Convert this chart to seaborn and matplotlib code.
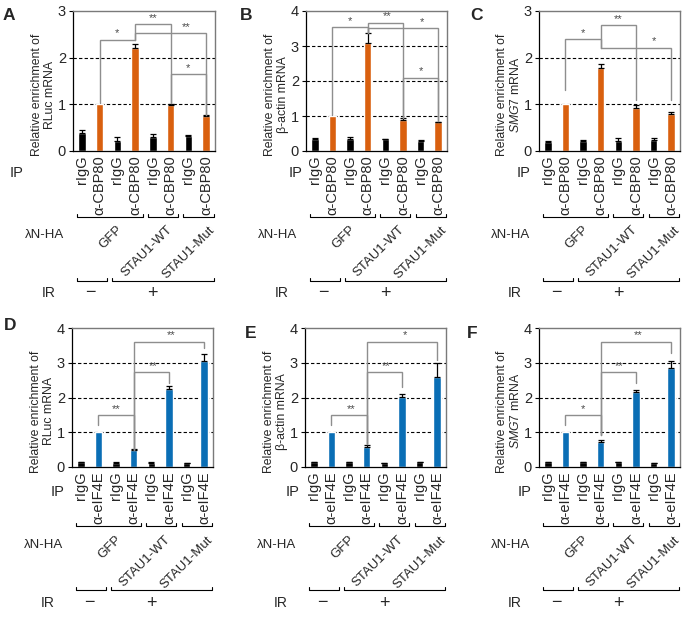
import pandas as pd
import matplotlib
matplotlib.use("Agg")
import matplotlib.pyplot as plt
import matplotlib.transforms as mtransforms
import seaborn as sns

W, H = 685, 618

# x tick labels
ab_cbp = ['rIgG', 'α-CBP80'] * 4
ab_eif = ['rIgG', 'α-eIF4E'] * 4
groups = ['GFP', 'STAU1-WT', 'STAU1-Mut']
ir_signs = ['−', '+']

# bar values (mean) and upper error
rluc_cbp = [0.38, 1.00, 0.21, 2.21, 0.29, 0.99, 0.32, 0.76]
rluc_cbp_err = [0.07, 0, 0.10, 0.08, 0.07, 0.02, 0.03, 0.01]
actin_cbp = [0.33, 1.00, 0.33, 3.10, 0.33, 0.88, 0.28, 0.83]
actin_cbp_err = [0.05, 0, 0.06, 0.27, 0.02, 0.05, 0.03, 0.01]
smg7_cbp = [0.20, 1.00, 0.22, 1.77, 0.22, 0.92, 0.23, 0.80]
smg7_cbp_err = [0.01, 0, 0.01, 0.09, 0.06, 0.07, 0.05, 0.03]
rluc_eif = [0.14, 1.00, 0.12, 0.50, 0.12, 2.25, 0.11, 3.05]
rluc_eif_err = [0.01, 0, 0.01, 0.01, 0.01, 0.08, 0.01, 0.20]
actin_eif = [0.13, 1.00, 0.14, 0.58, 0.11, 2.02, 0.13, 2.58]
actin_eif_err = [0.01, 0, 0.01, 0.04, 0.01, 0.07, 0.01, 0.42]
smg7_eif = [0.14, 1.00, 0.13, 0.71, 0.14, 2.16, 0.11, 2.86]
smg7_eif_err = [0.01, 0, 0.01, 0.07, 0.01, 0.07, 0.01, 0.19]

# significance brackets: (bar_a, bar_b, level, low_a, low_b, stars, star_x)
sig_a = [(1, 3, 2.38, 1.02, 2.38, '*', 2.0),
         (3, 5, 2.72, 2.38, 1.02, '**', 4.0),
         (3, 7, 2.52, 2.38, 0.77, '**', 5.9),
         (5, 7, 1.65, 1.02, 0.77, '*', 6.0)]
sig_b = [(1, 3, 3.53, 1.03, 3.38, '*', 2.0),
         (3, 5, 3.66, 3.38, 0.95, '**', 4.1),
         (3, 7, 3.51, 3.38, 0.85, '*', 6.1),
         (5, 7, 2.10, 0.95, 0.85, '*', 6.0)]
sig_c = [(1, 3, 2.39, 1.30, 2.21, '*', 2.0),
         (3, 5, 2.70, 2.21, 1.09, '**', 4.0),
         (3, 7, 2.21, 2.21, 1.09, '*', 6.05)]
sig_d = [(1, 3, 1.49, 1.20, 0.50, '**', 2.0),
         (3, 5, 2.72, 0.50, 2.43, '**', 4.1),
         (3, 7, 3.60, 0.50, 3.42, '**', 5.1)]
sig_e = [(1, 3, 1.49, 1.20, 0.67, '**', 2.1),
         (3, 5, 2.72, 0.67, 2.30, '**', 4.1),
         (3, 7, 3.60, 0.67, 3.08, '*', 5.15)]
sig_f = [(1, 3, 1.49, 1.20, 0.92, '*', 2.0),
         (3, 5, 2.72, 0.92, 2.41, '**', 4.05),
         (3, 7, 3.60, 0.92, 3.28, '**', 5.1)]

ORANGE = '#D9600F'
BLUE = '#0A6EB5'

sns.set_theme(style='white')
plt.rcParams['font.family'] = ['Liberation Sans', 'DejaVu Sans']
plt.rcParams['mathtext.fontset'] = 'custom'
plt.rcParams['mathtext.rm'] = 'Liberation Sans'
plt.rcParams['mathtext.it'] = 'Liberation Sans:italic'

fig = plt.figure(figsize=(W / 100, H / 100), dpi=100)


def fy(y):
    # pixel row from top -> figure fraction
    return 1 - y / H


def make_axes(left, top, bottom, width=141):
    return fig.add_axes([left / W, fy(bottom), width / W, (bottom - top) / H])


def draw_panel(ax, vals, errs, labels, color, ymax, ylabel, sigs, letter, letter_xy):
    df = pd.DataFrame({'pos': range(8), 'value': vals, 'ab': labels})
    pal = {labels[0]: 'black', labels[1]: color}
    sns.barplot(data=df, x='pos', y='value', hue='ab', palette=pal, dodge=False,
                width=0.42, errorbar=None, legend=False, saturation=1, ax=ax)
    xs = [i for i in range(8) if errs[i] > 0]
    ax.errorbar(xs, [vals[i] for i in xs], yerr=[[0] * len(xs), [errs[i] for i in xs]],
                fmt='none', ecolor='black', elinewidth=0.9, capsize=2.5, capthick=0.9)
    ax.set_xlim(-0.5, 7.5)
    ax.set_ylim(0, ymax)
    ax.set_yticks(range(ymax + 1))
    for lv in range(1, ymax):
        ax.axhline(lv, color='black', lw=0.8, ls=(0, (3, 2)), zorder=0)
    ax.set_xticks(range(8))
    ax.set_xticklabels(labels, rotation=90, fontsize=10.5)
    ax.set_xticks([i + 0.5 for i in range(7)], minor=True)
    ax.tick_params(axis='x', which='major', length=0, pad=3)
    ax.tick_params(axis='x', which='minor', length=3, width=0.8, direction='out', color='black')
    ax.tick_params(axis='y', length=3, width=0.8, direction='out', left=True, labelsize=10.5, pad=2, color='black')
    for side in ['left', 'bottom']:
        ax.spines[side].set_color('black')
        ax.spines[side].set_linewidth(0.9)
    for side in ['top', 'right']:
        ax.spines[side].set_color('#7a7a7a')
        ax.spines[side].set_linewidth(1.0)
    ax.set_xlabel('')
    ax.set_ylabel(ylabel, fontsize=8.8, linespacing=1.1)
    ax.yaxis.set_label_coords(-17 / 141, 0.4)
    # significance brackets
    for a, b, lv, lo_a, lo_b, stars, sx in sigs:
        ax.plot([a, a, b, b], [lo_a, lv, lv, lo_b], color='#8e8e8e', lw=1.0,
                solid_joinstyle='miter', clip_on=False, zorder=3)
        ax.text(sx, lv + ymax * 0.01, stars, ha='center', va='bottom',
                fontsize=8, color='#4a4a4a')
    fig.text(letter_xy[0] / W, fy(letter_xy[1]), letter, fontsize=12.5,
             fontweight='bold', ha='left', va='center')


def draw_design(ax, left, ip_dx, row):
    tr = mtransforms.blended_transform_factory(ax.transData, fig.transFigure)
    y_ip, y_b1, y_lam, y_b2, y_ir = row
    fig.text((left + ip_dx) / W, fy(y_ip), 'IP', fontsize=10.5, ha='center', va='center')
    fig.text((left - 9) / W, fy(y_lam), 'λN-HA', fontsize=9.5, ha='right', va='center')
    fig.text((left - 17) / W, fy(y_ir), 'IR', fontsize=10, ha='right', va='center')
    kw = dict(transform=tr, clip_on=False, color='black', lw=0.8)
    for s, e in [(0, 3), (4, 5), (6, 7)]:
        x0, x1 = s - 0.28, e + 0.42
        ax.plot([x0, x0, x1, x1], [fy(y_b1 - 3), fy(y_b1), fy(y_b1), fy(y_b1 - 3)], **kw)
    for x0, x1 in [(-0.27, 1.42), (1.70, 7.44)]:
        ax.plot([x0, x0, x1, x1], [fy(y_b2 - 3), fy(y_b2), fy(y_b2), fy(y_b2 - 3)], **kw)
    for name, gx in zip(groups, [2.2, 5.0, 7.35]):
        ax.text(gx, fy(y_lam - 7), name, transform=tr, rotation=45, rotation_mode='anchor',
                ha='right', va='center', fontsize=9.5)
    for sign, gx in zip(ir_signs, [0.46, 3.98]):
        ax.text(gx, fy(y_ir), sign, transform=tr, ha='center', va='center', fontsize=13)


top_row = (173, 217, 235, 281, 293)
bot_row = (492, 526, 545, 590, 603)

ax_a = make_axes(73, 11, 151, 142)
ax_b = make_axes(306, 11, 151)
ax_c = make_axes(539, 11, 151)
ax_d = make_axes(72, 328, 467)
ax_e = make_axes(305, 328, 467)
ax_f = make_axes(539, 328, 467)

lab_rluc = 'Relative enrichment of\nRLuc mRNA'
lab_actin = 'Relative enrichment of\nβ-actin mRNA'
lab_smg7 = 'Relative enrichment of\n$\\mathit{SMG7}$ mRNA'

draw_panel(ax_a, rluc_cbp, rluc_cbp_err, ab_cbp, ORANGE, 3, lab_rluc, sig_a, 'A', (3, 16))
draw_panel(ax_b, actin_cbp, actin_cbp_err, ab_cbp, ORANGE, 4, lab_actin, sig_b, 'B', (240, 15))
draw_panel(ax_c, smg7_cbp, smg7_cbp_err, ab_cbp, ORANGE, 3, lab_smg7, sig_c, 'C', (470, 15))
draw_panel(ax_d, rluc_eif, rluc_eif_err, ab_eif, BLUE, 4, lab_rluc, sig_d, 'D', (4, 325))
draw_panel(ax_e, actin_eif, actin_eif_err, ab_eif, BLUE, 4, lab_actin, sig_e, 'E', (245, 334))
draw_panel(ax_f, smg7_eif, smg7_eif_err, ab_eif, BLUE, 4, lab_smg7, sig_f, 'F', (467, 334))

draw_design(ax_a, 73, -56, top_row)
draw_design(ax_b, 306, -10, top_row)
draw_design(ax_c, 539, -15, top_row)
draw_design(ax_d, 72, -14, bot_row)
draw_design(ax_e, 305, -12, bot_row)
draw_design(ax_f, 539, -14, bot_row)

fig.savefig('out.png', dpi=100)
